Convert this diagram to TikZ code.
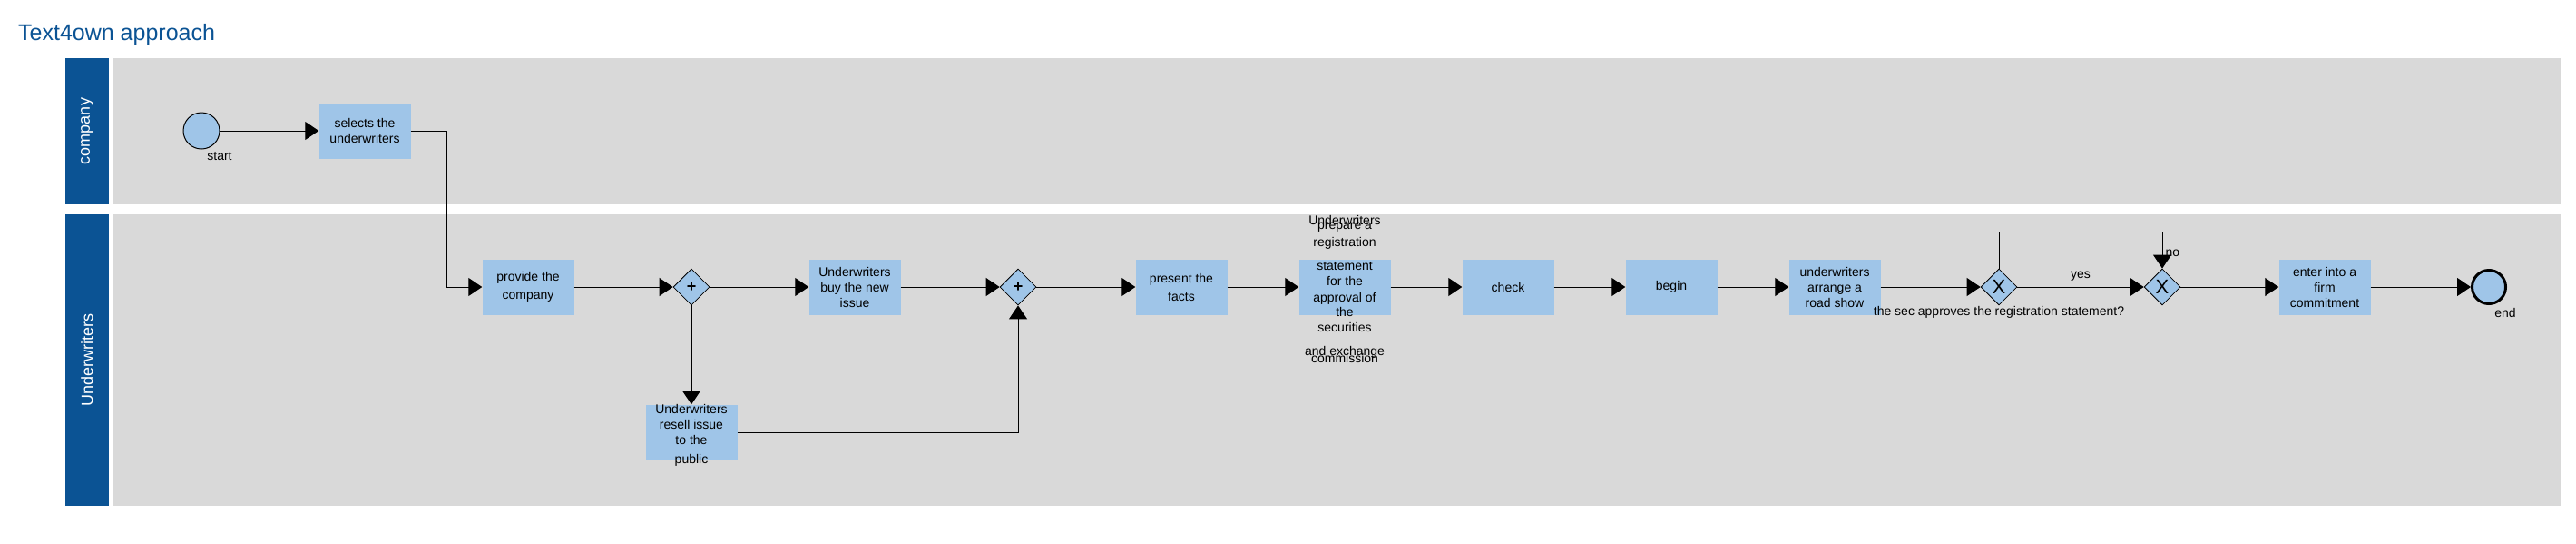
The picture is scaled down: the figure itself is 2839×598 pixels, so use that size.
\documentclass[tikz,border=0pt]{standalone}
\usepackage{fontspec}
\setmainfont{Liberation Sans}
\usetikzlibrary{arrows.meta,positioning,shapes.geometric}
\definecolor{laneblue}{HTML}{0B5394}
\definecolor{lanegray}{HTML}{D9D9D9}
\definecolor{taskfill}{HTML}{9FC5E8}

\begin{document}
\begin{tikzpicture}[x=1pt,y=-1pt,>=Stealth,
  task/.style={fill=taskfill,minimum width=101pt,minimum height=61pt,inner sep=0pt,align=center,font=\fontsize{14}{17}\selectfont},
  tasktxt/.style={align=center,inner sep=0pt,font=\fontsize{14}{17}\selectfont},
  lbl/.style={inner sep=0pt,font=\fontsize{14}{17}\selectfont},
  gw/.style={diamond,draw,line width=0.8pt,fill=taskfill,minimum width=40pt,minimum height=40pt,inner sep=0pt,aspect=1},
  startevt/.style={circle,draw,line width=1pt,fill=taskfill,minimum size=40pt,inner sep=0pt},
  endevt/.style={circle,draw,line width=3pt,fill=taskfill,minimum size=37pt,inner sep=0pt},
  lanetxt/.style={rotate=90,text=white,inner sep=0pt,font=\fontsize{18}{18}\selectfont},
  flow/.style={-{Triangle[length=15pt,width=20pt]},line width=1pt}]
  \useasboundingbox (0,0) rectangle (2839,598);
  \node[anchor=base west,inner sep=0pt,text=laneblue,font=\fontsize{25}{30}\selectfont] (title) at (20,44) {Text4own approach};
  \fill[laneblue] (72,64) rectangle (120,225);
  \fill[lanegray] (125,64) rectangle (2822,225);
  \fill[laneblue] (72,236) rectangle (120,557);
  \fill[lanegray] (125,236) rectangle (2822,557);
  \node[lanetxt] (lane-co) at (96,144.5) {company};
  \node[lanetxt] (lane-uw) at (96,396.5) {Underwriters};

  \node[startevt] (start) at (222,144) {};
  \node[lbl] (start-lbl) at (242,172) {start};
  \node[task] (select) at (402,144) {selects the\\underwriters};
  \node[task] (provide) at (582,316) {provide the\\[3pt]company};
  \node[gw] (gw1) at (762,316) {\fontsize{18}{18}\selectfont\textbf{+}};
  \node[task] (buy) at (942,316) {Underwriters\\buy the new\\issue};
  \node[task] (resell) at (762,476) {};
  \node[tasktxt] (resell-txt) at (762,479) {Underwriters\\resell issue\\to the\\[4pt]public};
  \node[gw] (gw2) at (1122,316) {\fontsize{18}{18}\selectfont\textbf{+}};
  \node[task] (facts) at (1302,316) {present the\\[3pt]facts};
  \node[task] (prep) at (1482,316) {};
  \node[tasktxt] (prep-txt) at (1482,318) {Underwriters\\[-12pt]prepare a\\[2pt]registration\\[9pt]statement\\for the\\[1pt]approval of\\[-1pt]the\\securities\\[9pt]and exchange\\[-9pt]commission};
  \node[task] (check) at (1662,316) {check};
  \node[task] (begin) at (1842,316) {begin};
  \node[task] (road) at (2022,316) {underwriters\\arrange a\\road show};
  \node[gw] (xor1) at (2203,316) {\fontsize{22}{22}\selectfont X};
  \node[lbl,below=1pt of xor1] (ask) {the sec approves the registration statement?};
  \node[gw] (xor2) at (2383,316) {\fontsize{22}{22}\selectfont X};
  \node[task] (firm) at (2562,316) {enter into a\\firm\\commitment};
  \node[endevt] (end) at (2743,316) {};
  \node[lbl] (end-lbl) at (2761,344) {end};

  \draw[flow] (start) -- (select);
  \draw[flow] (select.east) -- ++(40,0) |- (provide);
  \draw[flow] (provide) -- (gw1);
  \draw[flow] (gw1) -- (buy);
  \draw[flow] (gw1) -- (resell);
  \draw[flow] (buy) -- (gw2);
  \draw[flow] (resell) -| (gw2);
  \draw[flow] (gw2) -- (facts);
  \draw[flow] (facts) -- (prep);
  \draw[flow] (prep) -- (check);
  \draw[flow] (check) -- (begin);
  \draw[flow] (begin) -- (road);
  \draw[flow] (road) -- (xor1);
  \draw[flow] (xor1) -- node[lbl,above=6pt] {yes} (xor2);
  \draw[flow] (xor1.north) -- ++(0,-40) -| (xor2.north) node[lbl,anchor=west,xshift=3pt,yshift=17pt] {no};
  \draw[flow] (xor2) -- (firm);
  \draw[flow] (firm) -- (end);
\end{tikzpicture}
\end{document}
